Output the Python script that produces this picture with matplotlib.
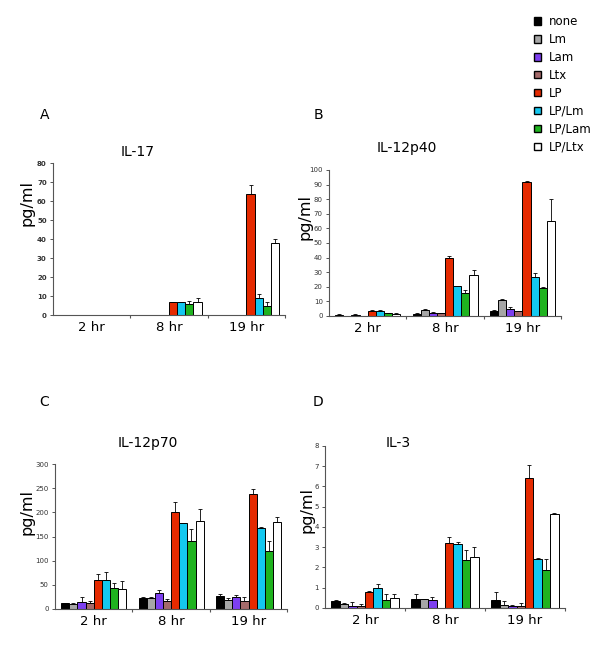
import numpy as np
import matplotlib
matplotlib.use('Agg')
import matplotlib.pyplot as plt
from matplotlib.patches import Patch

plt.rcParams['font.family'] = ['DejaVu Sans']

treatments = ["none", "Lm", "Lam", "Ltx", "LP", "LP/Lm", "LP/Lam", "LP/Ltx"]
colors = ["#000000", "#a6a6a6", "#7d3ff0", "#a46a6a", "#e52a00", "#14c8f0", "#1fb31f", "#ffffff"]
times = ["2 hr", "8 hr", "19 hr"]

# values per time point, bars in treatment order
il17 = [[0, 0, 0, 0, 0, 0, 0, 0],
        [0.2, 0.2, 0.2, 0, 6.8, 6.6, 5.6, 7.1],
        [0, 0, 0, 0, 63.8, 9.2, 5.0, 37.8]]
il17_err = [[0, 0, 0, 0, 0, 0, 0, 0],
            [0, 0, 0, 0, 0.2, 0.4, 1.6, 2.1],
            [0, 0, 0, 0, 4.4, 2.1, 2.1, 2.3]]

il12p40 = [[0.7, 0.3, 0.7, 0.3, 3.5, 3.5, 2.0, 1.3],
           [1.5, 4.2, 2.0, 1.7, 40.0, 20.8, 15.4, 28.4],
           [3.5, 11.2, 5.0, 3.5, 91.8, 27.0, 19.4, 65.4]]
il12p40_err = [[0.8, 0, 0.5, 0, 0.5, 0.7, 0.3, 0.5],
               [0.5, 0.6, 0.5, 0.3, 0.8, 0, 2.7, 3.2],
               [0.3, 0.3, 1.3, 0, 0.4, 2.7, 0.4, 14.5]]

il12p70 = [[12, 11, 15, 13, 60, 61, 43.5, 42],
           [22, 23, 33, 17, 200, 177, 140.5, 182],
           [26, 19, 25.5, 16.5, 238, 167, 120, 180]]
il12p70_err = [[1, 1.5, 9, 3, 11.5, 16, 11, 16.5],
               [3, 1, 5.5, 4, 20.5, 1, 24, 24],
               [6, 4, 4, 7.5, 9.5, 3, 21, 11]]

il3 = [[0.35, 0.22, 0.12, 0.12, 0.79, 1.01, 0.37, 0.51],
       [0.42, 0.42, 0.38, 0, 3.23, 3.15, 2.39, 2.54],
       [0.4, 0.17, 0.1, 0.12, 6.4, 2.44, 1.86, 4.62]]
il3_err = [[0.02, 0.05, 0.16, 0.08, 0.05, 0.15, 0.32, 0.18],
           [0.27, 0.02, 0.15, 0, 0.27, 0.13, 0.45, 0.45],
           [0.38, 0.18, 0.06, 0.14, 0.65, 0.03, 0.58, 0.08]]

fig = plt.figure(figsize=(6.0, 6.69), dpi=100)

panels = [
    # letter, title, vals, errs, ymax, ystep, rect, title pos, letter pos, ylabel pos
    ("A", "IL-17", il17, il17_err, 80, 10, [0.0883, 0.5291, 0.387, 0.2272], (138, 152), (45, 115), (27, 203)),
    ("B", "IL-12p40", il12p40, il12p40_err, 100, 10, [0.5483, 0.5277, 0.387, 0.2182], (407, 148), (318, 115), (305, 217)),
    ("C", "IL-12p70", il12p70, il12p70_err, 300, 50, [0.0917, 0.0897, 0.387, 0.2167], (148, 443), (44, 402), (27, 512)),
    ("D", "IL-3", il3, il3_err, 8, 1, [0.5417, 0.0912, 0.400, 0.2422], (398, 443), (318, 402), (307, 510)),
]

W, H = 600.0, 669.0
bw = 0.105
for letter, title, vals, errs, ymax, ystep, rect, tpos, lpos, ypos in panels:
    ax = fig.add_axes(rect)
    vals = np.array(vals)
    errs = np.array(errs)
    for i in range(len(treatments)):
        x = np.arange(3) + 0.08 + bw * (i + 0.5)
        ax.bar(x, vals[:, i], width=bw, color=colors[i], edgecolor="black", linewidth=0.7, zorder=2)
        e = errs[:, i]
        m = e > 0
        if m.any():
            ax.errorbar(x[m], vals[m, i], yerr=[np.zeros(m.sum()), e[m]], fmt="none",
                        ecolor="black", elinewidth=0.6, capsize=1.5, capthick=0.6, zorder=3)
    ax.set_xlim(0, 3)
    ax.set_ylim(0, ymax)
    ax.set_yticks(np.arange(0, ymax + ystep / 2, ystep))
    ax.set_xticks([0.5, 1.5, 2.5])
    ax.set_xticklabels(times, fontsize=9.5)
    ax.set_xticks([1, 2, 3], minor=True)
    ax.tick_params(axis="x", which="major", length=0, pad=4)
    ax.tick_params(axis="x", which="minor", length=2.5, width=0.8, direction="out", color="#555555")
    ax.tick_params(axis="y", length=2.5, width=0.7, color="#555555", labelsize=5, pad=2)
    for lab in ax.get_yticklabels():
        if letter == "A":
            lab.set_fontweight("bold")
        lab.set_color("#333333")
    ax.spines["top"].set_visible(False)
    ax.spines["right"].set_visible(False)
    ax.spines["left"].set_color("#555555")
    ax.spines["bottom"].set_color("#555555")
    ax.spines["left"].set_linewidth(0.8)
    ax.spines["bottom"].set_linewidth(0.8)
    fig.text(tpos[0] / W, 1 - tpos[1] / H, title, fontsize=10, ha="center", va="center")
    fig.text(lpos[0] / W, 1 - lpos[1] / H, letter, fontsize=10, ha="center", va="center")
    fig.text(ypos[0] / W, 1 - ypos[1] / H, "pg/ml", fontsize=11.5, ha="center", va="center", rotation=90)

handles = [Patch(facecolor=c, edgecolor="black", linewidth=1.0) for c in colors]
fig.legend(handles, treatments, loc="upper left", bbox_to_anchor=(534 / W, 1 - 15 / H),
           frameon=False, fontsize=8.5, handlelength=0.6, handleheight=0.6,
           handletextpad=0.7, labelspacing=0.42, borderaxespad=0, borderpad=0)

fig.savefig("out.png", dpi=100)
